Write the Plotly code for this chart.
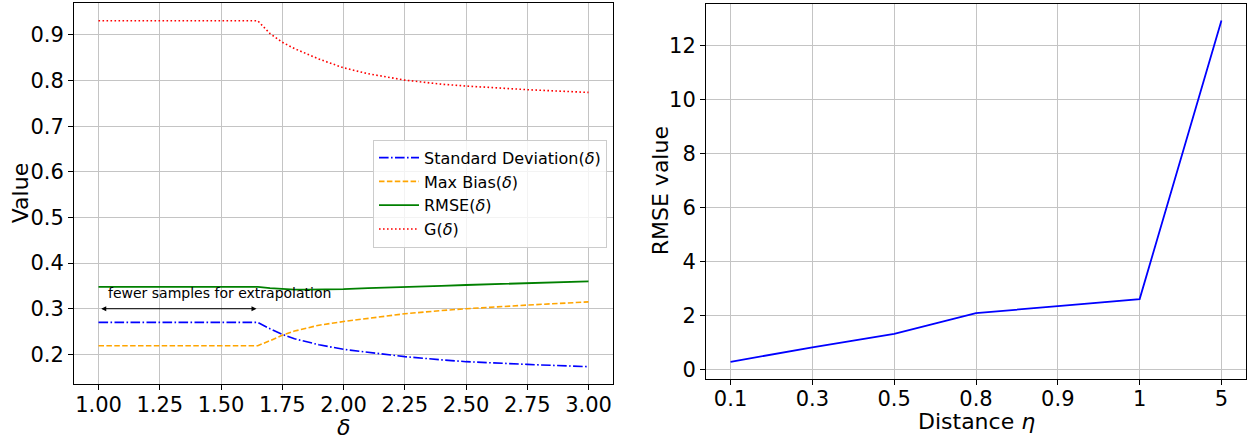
import plotly.graph_objects as go

# ---- Left panel data ----
delta = [1.0, 1.65, 1.7, 1.75, 1.8, 1.85, 1.9, 2.0, 2.1, 2.25, 2.4, 2.5, 2.75, 3.0]
std_dev = [0.270, 0.270, 0.256, 0.244, 0.234, 0.227, 0.221, 0.211, 0.204, 0.195, 0.188, 0.184, 0.178, 0.173]
max_bias = [0.219, 0.219, 0.230, 0.242, 0.251, 0.258, 0.264, 0.272, 0.279, 0.289, 0.296, 0.300, 0.308, 0.315]
rmse_delta = [0.348, 0.348, 0.345, 0.343, 0.342, 0.342, 0.342, 0.343, 0.345, 0.347, 0.350, 0.352, 0.356, 0.360]
g_delta = [0.931, 0.931, 0.903, 0.884, 0.870, 0.858, 0.847, 0.828, 0.815, 0.801, 0.792, 0.788, 0.780, 0.774]

left_xticks = [1.00, 1.25, 1.50, 1.75, 2.00, 2.25, 2.50, 2.75, 3.00]
left_yticks = [0.2, 0.3, 0.4, 0.5, 0.6, 0.7, 0.8, 0.9]

# ---- Right panel data ----
eta_labels = ["0.1", "0.3", "0.5", "0.8", "0.9", "1", "5"]
rmse_eta = [0.30, 0.83, 1.33, 2.10, 2.36, 2.62, 12.93]
right_yticks = [0, 2, 4, 6, 8, 10, 12]

FONT = "DejaVu Sans"
W, H = 1252, 442

fig = go.Figure()

fig.add_trace(go.Scatter(x=delta, y=std_dev, mode="lines", name="Standard Deviation(<i>δ</i>)",
                         line=dict(color="blue", width=1.6, dash="9.6px,2.4px,1.6px,2.4px"),
                         xaxis="x", yaxis="y"))
fig.add_trace(go.Scatter(x=delta, y=max_bias, mode="lines", name="Max Bias(<i>δ</i>)",
                         line=dict(color="orange", width=1.6, dash="5.5px,2.4px"),
                         xaxis="x", yaxis="y"))
fig.add_trace(go.Scatter(x=delta, y=rmse_delta, mode="lines", name="RMSE(<i>δ</i>)",
                         line=dict(color="green", width=1.8),
                         xaxis="x", yaxis="y"))
fig.add_trace(go.Scatter(x=delta, y=g_delta, mode="lines", name="G(<i>δ</i>)",
                         line=dict(color="red", width=1.6, dash="1.6px,2.4px"),
                         xaxis="x", yaxis="y"))

fig.add_trace(go.Scatter(x=list(range(len(eta_labels))), y=rmse_eta, mode="lines",
                         line=dict(color="blue", width=1.8), showlegend=False,
                         xaxis="x2", yaxis="y2"))

def px_dom_x(a, b):
    return [a / W, b / W]

def px_dom_y(top, bottom):
    return [(H - bottom) / H, (H - top) / H]

axis_common = dict(
    showline=True, linecolor="black", linewidth=1, mirror=True,
    ticks="outside", ticklen=5, tickwidth=1, tickcolor="black",
    showgrid=True, gridcolor="#c4c4c4", gridwidth=1,
    zeroline=False,
    tickfont=dict(family=FONT, size=21, color="black"),
)

fig.update_layout(
    width=W, height=H,
    margin=dict(l=0, r=0, t=0, b=0),
    paper_bgcolor="white", plot_bgcolor="white",
    font=dict(family=FONT, color="black"),
    xaxis=dict(domain=px_dom_x(74, 613), range=[0.9, 3.1], tickvals=left_xticks,
               tickformat=".2f", anchor="y", ticklabelstandoff=-4, **axis_common),
    yaxis=dict(domain=px_dom_y(3, 388), range=[0.134, 0.970], tickvals=left_yticks,
               tickformat=".1f", anchor="x", **axis_common),
    xaxis2=dict(domain=px_dom_x(706, 1246), range=[-0.3, 6.3],
                tickvals=list(range(len(eta_labels))), ticktext=eta_labels,
                anchor="y2", ticklabelstandoff=-4, **axis_common),
    yaxis2=dict(domain=px_dom_y(4, 382), range=[-0.32, 13.54], tickvals=right_yticks,
                anchor="x2", **axis_common),
    legend=dict(x=373 / W, y=(H - 141) / H, xanchor="left", yanchor="top",
                bgcolor="rgba(255,255,255,0.8)", bordercolor="#cccccc", borderwidth=1,
                font=dict(family=FONT, size=16, color="black"),
                itemwidth=40, tracegroupgap=4),
    showlegend=True,
)

annotations = [
    # axis titles
    dict(text="Value", xref="paper", yref="paper", x=20 / W, y=(H - 195) / H,
         textangle=-90, showarrow=False, xanchor="center", yanchor="middle",
         font=dict(family=FONT, size=22, color="black")),
    dict(text="<i>δ</i>", xref="paper", yref="paper", x=343 / W, y=(H - 431) / H,
         showarrow=False, xanchor="center", yanchor="middle",
         font=dict(family=FONT, size=22, color="black")),
    dict(text="RMSE value", xref="paper", yref="paper", x=660 / W, y=(H - 193) / H,
         textangle=-90, showarrow=False, xanchor="center", yanchor="middle",
         font=dict(family=FONT, size=22, color="black")),
    dict(text="Distance <i>η</i>", xref="paper", yref="paper", x=976 / W, y=(H - 425) / H,
         showarrow=False, xanchor="center", yanchor="middle",
         font=dict(family=FONT, size=22, color="black")),
    # double-headed arrow
    dict(x=1.645, y=0.3, ax=1.005, ay=0.3, xref="x", yref="y", axref="x", ayref="y",
         text="", showarrow=True, arrowhead=2, startarrowhead=2, arrowside="end+start",
         arrowsize=1, startarrowsize=1, arrowwidth=1, arrowcolor="black",
         standoff=0, startstandoff=0),
    dict(text="fewer samples for extrapolation", x=1.03, y=0.334, xref="x", yref="y",
         showarrow=False, xanchor="left", yanchor="middle",
         font=dict(family=FONT, size=14, color="black")),
]
fig.update_layout(annotations=annotations)

fig.write_html("out.html")
